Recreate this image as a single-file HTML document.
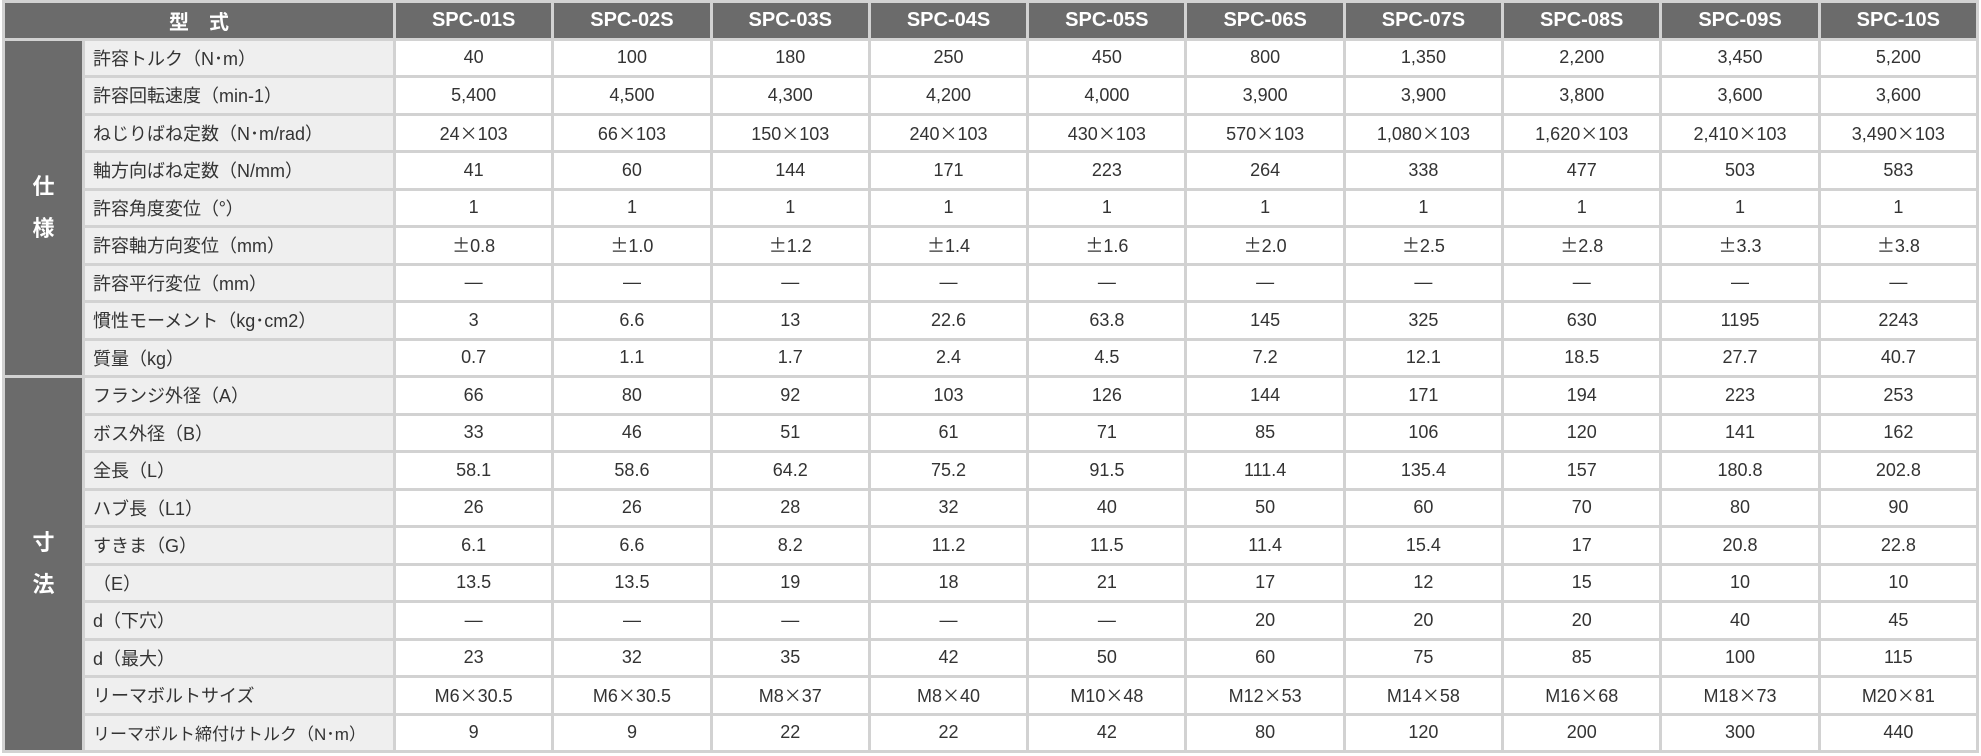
<!DOCTYPE html>
<html><head><meta charset="utf-8"><style>
html,body{margin:0;padding:0;background:#fff;width:1981px;height:756px;overflow:hidden}
table{position:absolute;left:2px;top:0px;width:1977px;height:753px;border-collapse:separate;border-spacing:3px;background:#d2d2d2;table-layout:fixed;font-family:"Liberation Sans","Noto Sans CJK JP",sans-serif;color:#333}
td,th{padding:0;height:34px;font-size:18px;text-align:center;background:#fff;font-weight:normal}
th{background:#6b6b6b;color:#fff;font-size:20px;font-weight:bold}
td.l{background:#efefef;text-align:left;padding-left:8px;font-size:18px}
td.g{background:#6b6b6b;color:#fff;font-size:22px;font-weight:bold;line-height:42px}
.j{font-family:"Noto Sans CJK JP",sans-serif}
</style></head><body>
<table>
<colgroup><col style="width:77px"><col style="width:308px"><col span="10"></colgroup>
<tr><th colspan="2">型　式</th><th>SPC-01S</th><th>SPC-02S</th><th>SPC-03S</th><th>SPC-04S</th><th>SPC-05S</th><th>SPC-06S</th><th>SPC-07S</th><th>SPC-08S</th><th>SPC-09S</th><th>SPC-10S</th></tr>
<tr><td class="g" rowspan="9">仕<br>様</td><td class="l">許容トルク<span class="j">（</span>N<span class="j">･</span>m<span class="j">）</span></td><td>40</td><td>100</td><td>180</td><td>250</td><td>450</td><td>800</td><td>1,350</td><td>2,200</td><td>3,450</td><td>5,200</td></tr>
<tr><td class="l">許容回転速度<span class="j">（</span>min-1<span class="j">）</span></td><td>5,400</td><td>4,500</td><td>4,300</td><td>4,200</td><td>4,000</td><td>3,900</td><td>3,900</td><td>3,800</td><td>3,600</td><td>3,600</td></tr>
<tr><td class="l">ねじりばね定数<span class="j">（</span>N<span class="j">･</span>m/rad<span class="j">）</span></td><td>24<span class="j">×</span>103</td><td>66<span class="j">×</span>103</td><td>150<span class="j">×</span>103</td><td>240<span class="j">×</span>103</td><td>430<span class="j">×</span>103</td><td>570<span class="j">×</span>103</td><td>1,080<span class="j">×</span>103</td><td>1,620<span class="j">×</span>103</td><td>2,410<span class="j">×</span>103</td><td>3,490<span class="j">×</span>103</td></tr>
<tr><td class="l">軸方向ばね定数<span class="j">（</span>N/mm<span class="j">）</span></td><td>41</td><td>60</td><td>144</td><td>171</td><td>223</td><td>264</td><td>338</td><td>477</td><td>503</td><td>583</td></tr>
<tr><td class="l">許容角度変位<span class="j">（°）</span></td><td>1</td><td>1</td><td>1</td><td>1</td><td>1</td><td>1</td><td>1</td><td>1</td><td>1</td><td>1</td></tr>
<tr><td class="l">許容軸方向変位<span class="j">（</span>mm<span class="j">）</span></td><td><span class="j">±</span>0.8</td><td><span class="j">±</span>1.0</td><td><span class="j">±</span>1.2</td><td><span class="j">±</span>1.4</td><td><span class="j">±</span>1.6</td><td><span class="j">±</span>2.0</td><td><span class="j">±</span>2.5</td><td><span class="j">±</span>2.8</td><td><span class="j">±</span>3.3</td><td><span class="j">±</span>3.8</td></tr>
<tr><td class="l">許容平行変位<span class="j">（</span>mm<span class="j">）</span></td><td>―</td><td>―</td><td>―</td><td>―</td><td>―</td><td>―</td><td>―</td><td>―</td><td>―</td><td>―</td></tr>
<tr><td class="l">慣性モーメント<span class="j">（</span>kg<span class="j">･</span>cm2<span class="j">）</span></td><td>3</td><td>6.6</td><td>13</td><td>22.6</td><td>63.8</td><td>145</td><td>325</td><td>630</td><td>1195</td><td>2243</td></tr>
<tr><td class="l">質量<span class="j">（</span>kg<span class="j">）</span></td><td>0.7</td><td>1.1</td><td>1.7</td><td>2.4</td><td>4.5</td><td>7.2</td><td>12.1</td><td>18.5</td><td>27.7</td><td>40.7</td></tr>
<tr><td class="g" rowspan="10">寸<br>法</td><td class="l">フランジ外径<span class="j">（</span>A<span class="j">）</span></td><td>66</td><td>80</td><td>92</td><td>103</td><td>126</td><td>144</td><td>171</td><td>194</td><td>223</td><td>253</td></tr>
<tr><td class="l">ボス外径<span class="j">（</span>B<span class="j">）</span></td><td>33</td><td>46</td><td>51</td><td>61</td><td>71</td><td>85</td><td>106</td><td>120</td><td>141</td><td>162</td></tr>
<tr><td class="l">全長<span class="j">（</span>L<span class="j">）</span></td><td>58.1</td><td>58.6</td><td>64.2</td><td>75.2</td><td>91.5</td><td>111.4</td><td>135.4</td><td>157</td><td>180.8</td><td>202.8</td></tr>
<tr><td class="l">ハブ長<span class="j">（</span>L1<span class="j">）</span></td><td>26</td><td>26</td><td>28</td><td>32</td><td>40</td><td>50</td><td>60</td><td>70</td><td>80</td><td>90</td></tr>
<tr><td class="l">すきま<span class="j">（</span>G<span class="j">）</span></td><td>6.1</td><td>6.6</td><td>8.2</td><td>11.2</td><td>11.5</td><td>11.4</td><td>15.4</td><td>17</td><td>20.8</td><td>22.8</td></tr>
<tr><td class="l"><span class="j">（</span>E<span class="j">）</span></td><td>13.5</td><td>13.5</td><td>19</td><td>18</td><td>21</td><td>17</td><td>12</td><td>15</td><td>10</td><td>10</td></tr>
<tr><td class="l">d<span class="j">（</span>下穴<span class="j">）</span></td><td>―</td><td>―</td><td>―</td><td>―</td><td>―</td><td>20</td><td>20</td><td>20</td><td>40</td><td>45</td></tr>
<tr><td class="l">d<span class="j">（</span>最大<span class="j">）</span></td><td>23</td><td>32</td><td>35</td><td>42</td><td>50</td><td>60</td><td>75</td><td>85</td><td>100</td><td>115</td></tr>
<tr><td class="l">リーマボルトサイズ</td><td>M6<span class="j">×</span>30.5</td><td>M6<span class="j">×</span>30.5</td><td>M8<span class="j">×</span>37</td><td>M8<span class="j">×</span>40</td><td>M10<span class="j">×</span>48</td><td>M12<span class="j">×</span>53</td><td>M14<span class="j">×</span>58</td><td>M16<span class="j">×</span>68</td><td>M18<span class="j">×</span>73</td><td>M20<span class="j">×</span>81</td></tr>
<tr><td class="l" style="font-size:17px">リーマボルト締付けトルク<span class="j">（</span>N<span class="j">･</span>m<span class="j">）</span></td><td>9</td><td>9</td><td>22</td><td>22</td><td>42</td><td>80</td><td>120</td><td>200</td><td>300</td><td>440</td></tr>
</table>
</body></html>
